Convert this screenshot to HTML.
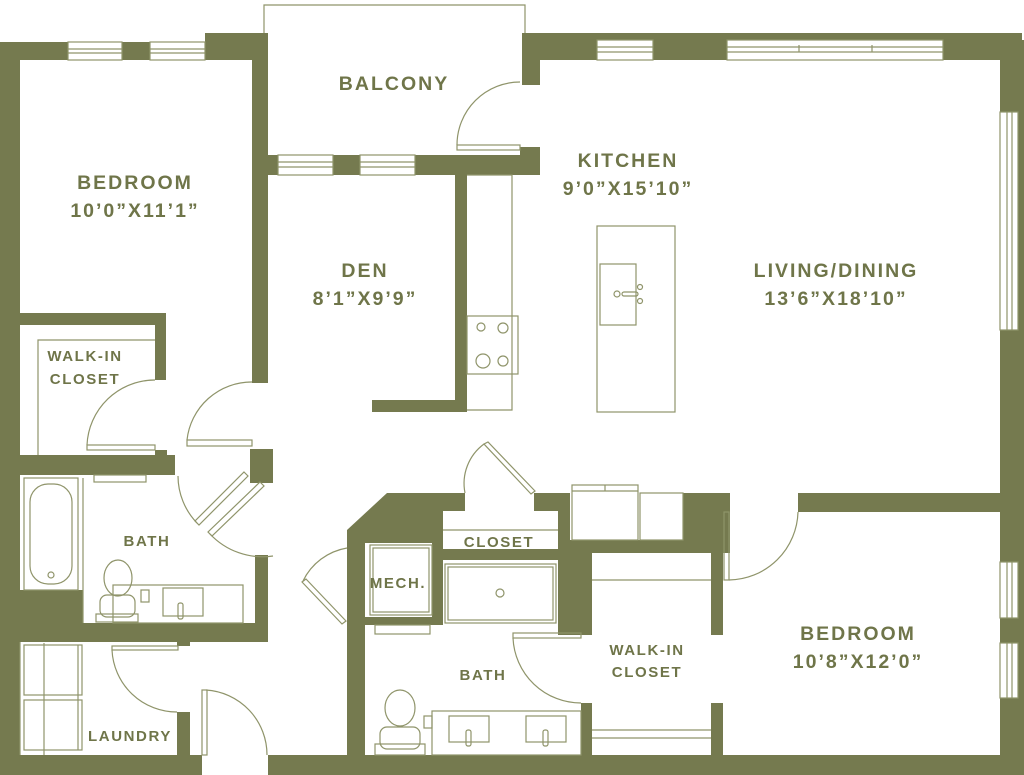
<!DOCTYPE html>
<html><head><meta charset="utf-8"><style>
html,body{margin:0;padding:0;background:#fff;}
svg{display:block}
text{font-family:"Liberation Sans",sans-serif;font-weight:bold;fill:#6f7549;text-anchor:middle}
.big{font-size:19.5px;letter-spacing:2px}
.sm{font-size:15px;letter-spacing:1.6px}
</style></head><body>
<svg width="1024" height="775" viewBox="0 0 1024 775" xmlns="http://www.w3.org/2000/svg">
<g fill="#757a4f">
<rect x="0" y="42" width="268" height="18"/>
<rect x="0" y="42" width="20" height="733"/>
<rect x="205" y="33" width="63" height="27"/>
<rect x="252" y="33" width="16" height="350"/>
<rect x="522" y="33" width="18" height="52"/>
<rect x="522" y="33" width="500" height="27"/>
<rect x="540" y="40" width="484" height="20"/>
<rect x="1000" y="40" width="24" height="735"/>
<rect x="268" y="155" width="272" height="20"/>
<rect x="520" y="147" width="20" height="28"/>
<rect x="455" y="175" width="12" height="237"/>
<rect x="372" y="400" width="95" height="12"/>
<rect x="20" y="313" width="146" height="12"/>
<rect x="155" y="313" width="11" height="67"/>
<rect x="20" y="455" width="155" height="20"/>
<rect x="155" y="450" width="12" height="8"/>
<rect x="250" y="449" width="23" height="34"/>
<rect x="20" y="590" width="63" height="40"/>
<rect x="0" y="623" width="268" height="19"/>
<rect x="255" y="555" width="13" height="87"/>
<rect x="177" y="712" width="13" height="43"/>
<rect x="177" y="638" width="13" height="8"/>
<rect x="0" y="755" width="202" height="20"/>
<rect x="268" y="755" width="756" height="20"/>
<path d="M387 493 L465 493 L465 511 L443 511 L443 549 L558 549 L558 511 L534 511 L534 493 L570 493 L570 540 L683 540 L683 493 L730 493 L730 553 L723 553 L723 635 L711 635 L711 553 L592 553 L592 635 L558 635 L558 625 L443 625 L443 625 L365 625 L365 755 L347 755 L347 530 Z"/>
<rect x="711" y="703" width="12" height="52"/>
<rect x="581" y="703" width="11" height="52"/>
<rect x="798" y="493" width="226" height="19"/>
</g>
<g fill="#fff">
<rect x="365" y="543" width="67" height="74"/>
<rect x="443" y="560" width="115" height="65"/>
</g>
<g fill="none" stroke="#8f946a" stroke-width="1.2">
<rect x="68" y="42" width="54" height="18" fill="#fff"/><line x1="68" y1="49" x2="122" y2="49"/><line x1="68" y1="53" x2="122" y2="53"/>
<rect x="150" y="42" width="55" height="18" fill="#fff"/><line x1="150" y1="49" x2="205" y2="49"/><line x1="150" y1="53" x2="205" y2="53"/>
<rect x="278" y="155" width="55" height="20" fill="#fff"/><line x1="278" y1="162" x2="333" y2="162"/><line x1="278" y1="167" x2="333" y2="167"/>
<rect x="360" y="155" width="55" height="20" fill="#fff"/><line x1="360" y1="162" x2="415" y2="162"/><line x1="360" y1="167" x2="415" y2="167"/>
<rect x="597" y="40" width="56" height="20" fill="#fff"/><line x1="597" y1="47" x2="653" y2="47"/><line x1="597" y1="52" x2="653" y2="52"/>
<rect x="727" y="40" width="216" height="20" fill="#fff"/><line x1="727" y1="47" x2="943" y2="47"/><line x1="727" y1="52" x2="943" y2="52"/><line x1="799" y1="45" x2="799" y2="52"/><line x1="872" y1="45" x2="872" y2="52"/>
<rect x="1000" y="112" width="18" height="218" fill="#fff"/><line x1="1007" y1="112" x2="1007" y2="330"/><line x1="1012" y1="112" x2="1012" y2="330"/>
<rect x="1000" y="562" width="18" height="56" fill="#fff"/><line x1="1007" y1="562" x2="1007" y2="618"/><line x1="1012" y1="562" x2="1012" y2="618"/>
<rect x="1000" y="643" width="18" height="55" fill="#fff"/><line x1="1007" y1="643" x2="1007" y2="698"/><line x1="1012" y1="643" x2="1012" y2="698"/>
<polyline points="264,33 264,5 525,5 525,33"/>
<rect x="457" y="145" width="63" height="5"/>
<path d="M457 145 A63 63 0 0 1 520 82"/>
<polyline points="467,175 512,175 512,410 467,410"/>
<rect x="467" y="316" width="51" height="58"/>
<circle cx="481" cy="327" r="4"/><circle cx="503" cy="328" r="5"/><circle cx="483" cy="361" r="7"/><circle cx="503" cy="361" r="5"/>
<rect x="597" y="226" width="78" height="186"/>
<rect x="600" y="264" width="36" height="61"/>
<circle cx="617" cy="294" r="3"/><rect x="622" y="292" width="16" height="4" rx="2"/><circle cx="640" cy="287" r="2.5"/><circle cx="640" cy="301" r="2.5"/>
<polyline points="38,455 38,340 155,340"/>
<rect x="87" y="445" width="68" height="5"/>
<path d="M87 445 A68 68 0 0 1 155 380"/>
<rect x="187" y="440" width="65" height="6"/>
<path d="M187 440 A65 65 0 0 1 252 382"/>
<path d="M178 476 A68 68 0 0 0 197 523"/>
<polygon points="244,472 248,476 199,525 195,521"/>
<path d="M210 534 A72 72 0 0 0 273 556"/>
<polygon points="260,482 264,486 212,536 208,532"/>
<rect x="94" y="475" width="52" height="7"/>
<rect x="24" y="478" width="54" height="112"/>
<rect x="30" y="484" width="42" height="100" rx="18"/>
<circle cx="51" cy="575" r="3"/>
<line x1="83" y1="478" x2="83" y2="623"/>
<ellipse cx="118" cy="578" rx="14" ry="18"/>
<rect x="100" y="595" width="35" height="22" rx="7"/>
<rect x="96" y="614" width="42" height="8"/>
<rect x="113" y="585" width="130" height="38"/>
<rect x="163" y="588" width="40" height="28"/>
<rect x="178" y="603" width="5" height="16" rx="2"/>
<rect x="141" y="590" width="8" height="12"/>
<rect x="24" y="645" width="58" height="50"/><rect x="24" y="700" width="58" height="50"/>
<line x1="44" y1="643" x2="44" y2="755"/><line x1="78" y1="645" x2="78" y2="750"/>
<polyline points="20,642 20,755"/>
<rect x="112" y="646" width="66" height="4"/>
<path d="M112 650 A65 65 0 0 0 177 712"/>
<rect x="202" y="690" width="5" height="65"/>
<path d="M206 690 A65 65 0 0 1 267 755"/>
<path d="M465 493 A49 49 0 0 1 484 444"/>
<polygon points="484,444 488,442 535,491 531,494"/>
<line x1="443" y1="530" x2="558" y2="530"/>
<rect x="370" y="545" width="62" height="70"/><rect x="373" y="548" width="56" height="64"/>
<rect x="445" y="564" width="111" height="59"/><rect x="448" y="567" width="105" height="53"/>
<circle cx="500" cy="593" r="4"/>
<path d="M347 548 A60 60 0 0 0 303 581"/>
<polygon points="302,582 306,579 346,621 342,624"/>
<rect x="375" y="625" width="55" height="9"/>
<rect x="513" y="633" width="68" height="5"/>
<path d="M513 638 A68 68 0 0 0 581 703"/>
<ellipse cx="400" cy="708" rx="15" ry="18"/>
<rect x="380" y="727" width="40" height="22" rx="7"/>
<rect x="375" y="744" width="50" height="11"/>
<rect x="432" y="711" width="149" height="44"/>
<rect x="449" y="716" width="40" height="26"/><rect x="466" y="730" width="5" height="16" rx="2"/>
<rect x="526" y="716" width="40" height="26"/><rect x="543" y="730" width="5" height="16" rx="2"/>
<rect x="424" y="716" width="8" height="12"/>
<rect x="572" y="485" width="66" height="55"/><line x1="572" y1="491" x2="638" y2="491"/><line x1="605" y1="485" x2="605" y2="491"/>
<rect x="640" y="493" width="43" height="47"/>
<polyline points="592,580 711,580"/>
<line x1="592" y1="730" x2="711" y2="730"/><line x1="592" y1="738" x2="711" y2="738"/>
<rect x="724" y="512" width="5" height="68"/>
<path d="M729 580 A70 70 0 0 0 798 512"/>
</g>
<g class="big">
<text class="big" x="394" y="90">BALCONY</text>
<text class="big" x="135" y="189">BEDROOM</text>
<text class="big" x="135" y="217">10’0”X11’1”</text>
<text class="big" x="365" y="277">DEN</text>
<text class="big" x="365" y="305">8’1”X9’9”</text>
<text class="big" x="628" y="167">KITCHEN</text>
<text class="big" x="628" y="195">9’0”X15’10”</text>
<text class="big" x="836" y="277">LIVING/DINING</text>
<text class="big" x="836" y="305">13’6”X18’10”</text>
<text class="big" x="858" y="640">BEDROOM</text>
<text class="big" x="858" y="668">10’8”X12’0”</text>
</g>
<g>
<text class="sm" x="85" y="361">WALK-IN</text>
<text class="sm" x="85" y="384">CLOSET</text>
<text class="sm" x="147" y="546">BATH</text>
<text class="sm" x="130" y="741">LAUNDRY</text>
<text class="sm" x="499" y="547">CLOSET</text>
<text class="sm" x="398" y="588">MECH.</text>
<text class="sm" x="483" y="680">BATH</text>
<text class="sm" x="647" y="655">WALK-IN</text>
<text class="sm" x="647" y="677">CLOSET</text>
</g>
</svg>
</body></html>
